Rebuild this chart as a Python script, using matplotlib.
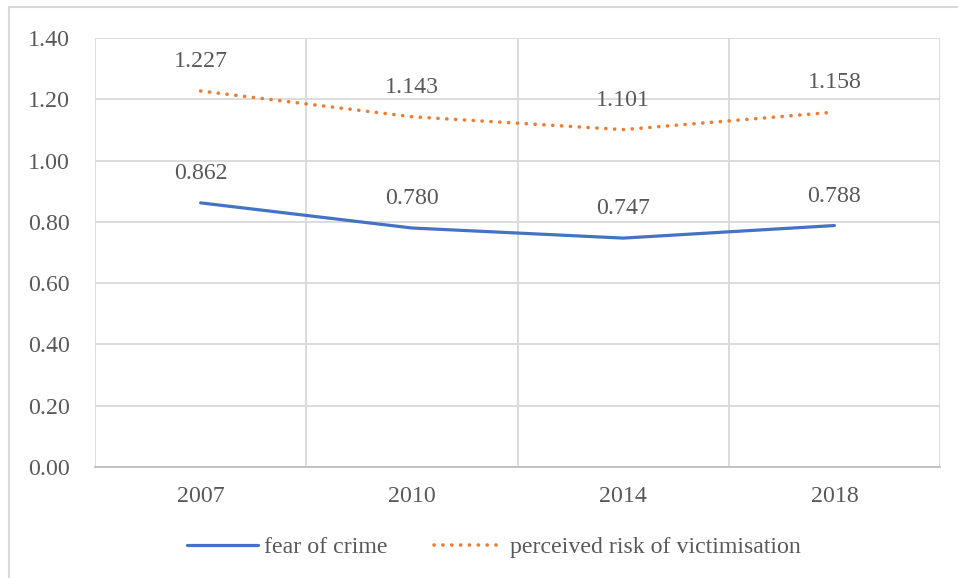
import matplotlib.pyplot as plt
from matplotlib.lines import Line2D

years = ['2007', '2010', '2014', '2018']
fear = [0.862, 0.780, 0.747, 0.788]
risk = [1.227, 1.143, 1.101, 1.158]
yticks = [0.0, 0.2, 0.4, 0.6, 0.8, 1.0, 1.2, 1.4]

plt.rcParams['font.family'] = ['Liberation Serif', 'DejaVu Serif']
txt = '#595959'
grid = '#D9D9D9'
blue = '#4472C4'
orange = '#ED7D31'
fs = 17.2

fig = plt.figure(figsize=(9.58, 5.78), dpi=100)
ax = fig.add_axes([95/958, 1-467/578, (940-95)/958, (467-38)/578])

x = list(range(len(years)))
ax.plot(x, fear, color=blue, lw=2.3, solid_capstyle='round', label='fear of crime', zorder=3)
ax.plot(x, risk, color=orange, lw=2.6, linestyle=(0, (0.05, 2.4)), dash_capstyle='round',
        label='perceived risk of victimisation', zorder=3)

for xi, v in zip(x, fear):
    ax.annotate(f'{v:.3f}', (xi, v), xytext=(0, 21), textcoords='offset points',
                ha='center', va='center', fontsize=fs, color=txt)
for xi, v in zip(x, risk):
    ax.annotate(f'{v:.3f}', (xi, v), xytext=(0, 21), textcoords='offset points',
                ha='center', va='center', fontsize=fs, color=txt)

ax.set_xlim(-0.5, 3.5)
ax.set_ylim(0, 1.4)
ax.set_yticks(yticks)
ax.set_yticklabels([f'{t:.2f}' for t in yticks])
ax.set_xticks(x)
ax.set_xticklabels(years)
ax.set_xticks([-0.5, 0.5, 1.5, 2.5, 3.5], minor=True)
ax.tick_params(axis='both', which='both', length=0, labelsize=fs, labelcolor=txt)
ax.tick_params(axis='y', pad=18)
ax.tick_params(axis='x', pad=14)
ax.grid(axis='y', color=grid, lw=1.3)
ax.grid(axis='x', which='minor', color=grid, lw=1.3)
ax.set_axisbelow(True)
for s in ['top', 'right', 'left']:
    ax.spines[s].set_visible(False)
ax.spines['bottom'].set_color('#BFBFBF')
ax.spines['bottom'].set_linewidth(1.3)

fig.legend(loc='center', bbox_to_anchor=(0.516, 1-547/578), ncol=2, frameon=False,
           fontsize=fs, labelcolor=txt, handlelength=2.95, handletextpad=0.25, columnspacing=1.95)

fig.add_artist(Line2D([9/958, 9/958], [0, 1-7/578], color=grid, lw=1.5, transform=fig.transFigure))
fig.add_artist(Line2D([9/958, 1], [1-7/578, 1-7/578], color=grid, lw=1.5, transform=fig.transFigure))

fig.savefig('out.png', dpi=100)
